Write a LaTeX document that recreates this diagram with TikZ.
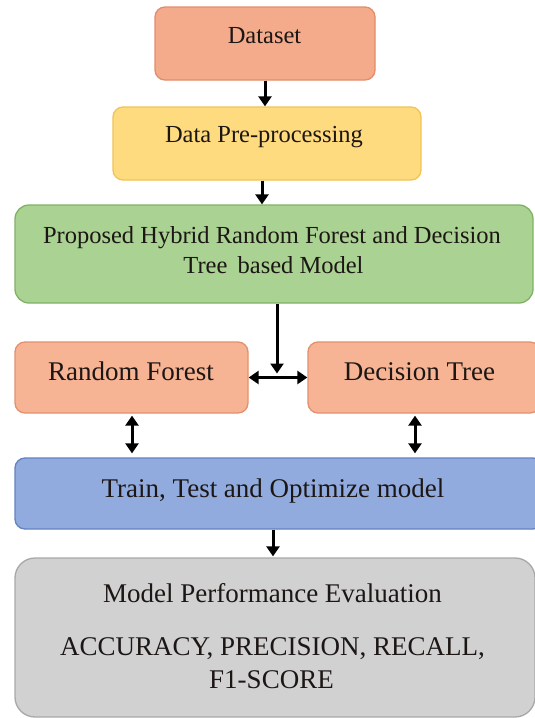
\documentclass[tikz,border=0pt]{standalone}
\usepackage{fontspec}
\setmainfont{LiberationSerif-Regular.ttf}[BoldFont=LiberationSerif-Bold.ttf]
\usetikzlibrary{arrows.meta,calc}
\definecolor{dsfill}{RGB}{244,171,140}
\definecolor{dsdraw}{RGB}{228,140,106}
\definecolor{ppfill}{RGB}{255,219,128}
\definecolor{ppdraw}{RGB}{240,196,86}
\definecolor{grfill}{RGB}{170,210,146}
\definecolor{grdraw}{RGB}{128,178,100}
\definecolor{rffill}{RGB}{246,180,148}
\definecolor{rfdraw}{RGB}{228,144,110}
\definecolor{trfill}{RGB}{145,171,222}
\definecolor{trdraw}{RGB}{100,130,192}
\definecolor{gyfill}{RGB}{209,209,209}
\definecolor{gydraw}{RGB}{168,168,168}
\definecolor{txt}{RGB}{28,22,20}
\begin{document}
\begin{tikzpicture}[x=1pt,y=-1pt,
  box/.style={rectangle,rounded corners=10pt,line width=1.3pt,inner sep=0pt},
  lbl/.style={anchor=base,inner sep=0pt,text=txt,align=center},
  fa/.style={font=\fontsize{24.5}{28}\selectfont},
  fb/.style={font=\fontsize{27}{32}\selectfont},
  arr/.style={line width=3pt,-{Triangle[width=13pt,length=10pt]}},
  darr/.style={line width=3pt,{Triangle[width=13pt,length=10pt]}-{Triangle[width=13pt,length=10pt]}}]
\useasboundingbox (0,0) rectangle (535,718);
\fill[white] (0,0) rectangle (535,718);
% boxes
\node[box,draw=dsdraw,fill=dsfill,minimum width=220pt,minimum height=73pt] (ds) at (265,43.5) {};
\node[box,draw=ppdraw,fill=ppfill,minimum width=308pt,minimum height=73pt] (pp) at (267,143.5) {};
\node[box,draw=grdraw,fill=grfill,rounded corners=14pt,minimum width=518pt,minimum height=98pt] (gr) at (274,254) {};
\node[box,draw=rfdraw,fill=rffill,minimum width=233pt,minimum height=71pt] (rf) at (131.5,377.5) {};
\node[box,draw=rfdraw,fill=rffill,minimum width=232pt,minimum height=71pt] (dt) at (424,377.5) {};
\node[box,draw=trdraw,fill=trfill,minimum width=528pt,minimum height=71pt] (tr) at (279,493.5) {};
\node[box,draw=gydraw,fill=gyfill,rounded corners=20pt,minimum width=520pt,minimum height=159pt] (gy) at (275,637.5) {};
% labels
\node[lbl,fa] (tds) at (264.5,43) {Dataset};
\node[lbl,fa] (tpp) at (264,142) {Data Pre-processing};
\node[lbl,fa] (tgr1) at (272,243) {Proposed Hybrid Random Forest and Decision};
\node[lbl,fa] (tgr2) at (273.5,273) {Tree\, based Model};
\node[lbl,fb] (trf) at (131,380) {Random Forest};
\node[lbl,fb] (tdt) at (419.5,380) {Decision Tree};
\node[lbl,fb] (ttr) at (273,497) {Train, Test and Optimize model};
\node[lbl,fb] (tgy1) at (272.5,602) {Model Performance Evaluation};
\node[lbl,fb] (tgy2) at (272.5,655) {ACCURACY, PRECISION, RECALL,};
\node[lbl,fb] (tgy3) at (271.5,688) {F1-SCORE};
% connectors
\coordinate (j) at (277,377.5);
\coordinate (a2) at (262,0);
\coordinate (a3) at (132,0);
\coordinate (a4) at (415,0);
\coordinate (a5) at (273,0);
\draw[arr] (ds.south) -- (ds.south |- pp.north);
\draw[arr] (a2 |- pp.south) -- (a2 |- gr.north);
\draw[arr] (j |- gr.south) -- ($(j)+(0,-4)$);
\draw[darr] (rf.east) -- (dt.west);
\draw[darr] ($(a3 |- rf.south)+(0,2)$) -- ($(a3 |- tr.north)+(0,-4)$);
\draw[darr] ($(a4 |- dt.south)+(0,2)$) -- ($(a4 |- tr.north)+(0,-4)$);
\draw[arr] (a5 |- tr.south) -- ($(a5 |- gy.north)+(0,-1)$);
\end{tikzpicture}
\end{document}
